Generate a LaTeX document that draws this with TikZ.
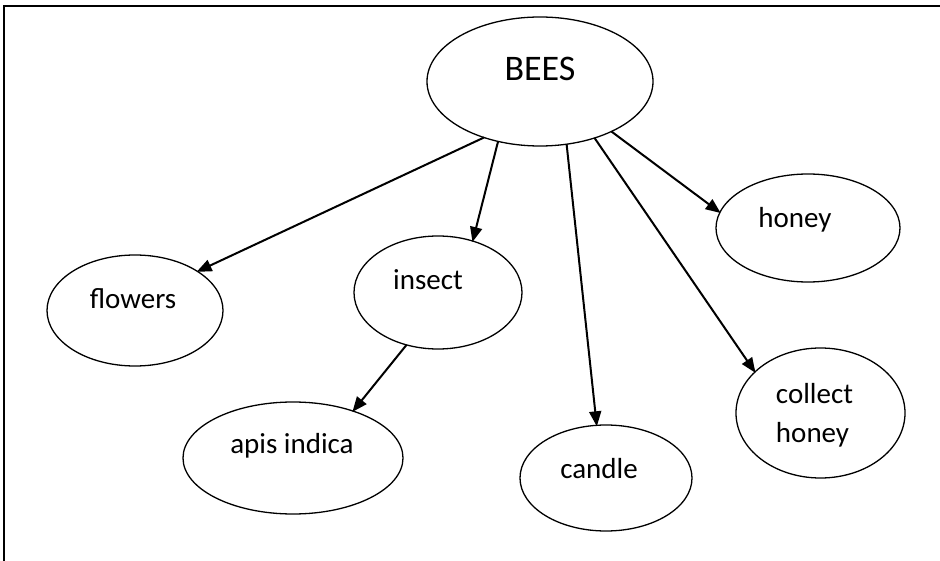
\documentclass[tikz,border=0pt]{standalone}
\usepackage{fontspec}
\setmainfont{Carlito}
\usetikzlibrary{shapes.geometric,arrows.meta}
\tikzset{
  bubble/.style={ellipse, draw, line width=1.3pt, inner sep=0pt, outer sep=0pt},
  lbl/.style={font=\fontsize{29}{39}\selectfont, inner sep=0pt},
  conn/.style={line width=2pt, -{Triangle[length=15pt,width=12pt]}, shorten >=-1pt}
}
\begin{document}
\begin{tikzpicture}[x=1pt,y=-1pt]
\useasboundingbox (0,0) rectangle (940,561);
% frame (top and left edges only)
\draw[line width=2.2pt] (4,561) -- (4,5.7) -- (940,5.7);

\node[bubble, minimum width=226pt, minimum height=129pt,
  label={[font=\fontsize{36}{40}\selectfont, inner sep=0pt, yshift=13pt]center:BEES}] (bees) at (540,81.5) {};
\node[bubble, minimum width=176pt, minimum height=111pt,
  label={[lbl, xshift=-2pt, yshift=12pt]center:flowers}] (flowers) at (135,310.5) {};
\node[bubble, minimum width=168pt, minimum height=113pt,
  label={[lbl, xshift=-10pt, yshift=13pt]center:insect}] (insect) at (438,292.5) {};
\node[bubble, minimum width=220pt, minimum height=112pt,
  label={[lbl, xshift=-1pt, yshift=12pt]center:apis indica}] (apis) at (293,458) {};
\node[bubble, minimum width=172pt, minimum height=106pt,
  label={[lbl, xshift=-7pt, yshift=9pt]center:candle}] (candle) at (606,478) {};
\node[bubble, minimum width=184pt, minimum height=108pt,
  label={[lbl, xshift=-13pt, yshift=8pt]center:honey}] (honey) at (808,228) {};
\node[bubble, minimum width=169pt, minimum height=130pt,
  label={[lbl, align=left, xshift=-6pt, yshift=-2pt]center:collect\\honey}] (chon) at (820.5,413) {};

\draw[conn] (bees.-135) -- (flowers.32);
\draw[conn] (bees.-125) -- (insect.56);
\draw[conn] (bees.-67) -- (candle.100);
\draw[conn] (bees.-46) -- (chon.148);
\draw[conn] (bees.-35) -- (honey.170);
\draw[conn] (insect.-121) -- (apis.38);
\end{tikzpicture}
\end{document}
